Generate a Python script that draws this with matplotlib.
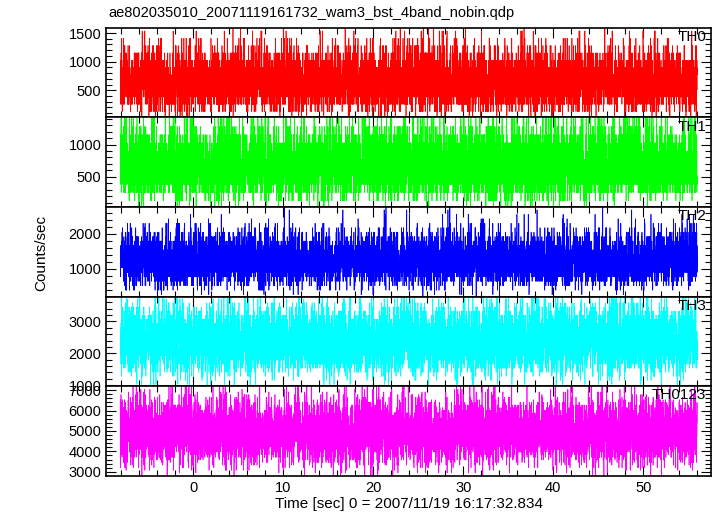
import numpy as np
import matplotlib
matplotlib.use("Agg")
import matplotlib.pyplot as plt
from matplotlib.ticker import MultipleLocator

plt.rcParams['font.family'] = ['Liberation Sans', 'DejaVu Sans']

# light curve: 1/128 s bins from -8.1 to 56.0 sec
# (the individual bins cannot be read off the picture; mean rates are read
#  from it and Poisson noise around them stands in for the counts)
t_start, t_stop, bin_size = -8.1, 56.0, 1.0 / 128
bands = ["TH0", "TH1", "TH2", "TH3", "TH0123"]
mean_rate = [650, 690, 1250, 2400, 4980]          # counts/sec
colors = ["#ff0000", "#00ff00", "#0000ff", "#00ffff", "#ff00ff"]
ylims = [(25, 1590), (30, 1420), (200, 2770), (970, 3780), (2805, 7195)]
major = [500, 500, 1000, 1000, 1000]
minor = [100, 100, 200, 200, 200]

time = np.arange(t_start, t_stop, bin_size)
rng = np.random.default_rng(7)
rates = [rng.poisson(m * bin_size, time.size) / bin_size for m in mean_rate]

fig, axes = plt.subplots(5, 1, sharex=True, figsize=(7.17, 5.16), dpi=100)
fig.subplots_adjust(left=0.148, right=0.992, top=0.946, bottom=0.078, hspace=0)

for i, ax in enumerate(axes):
    ax.plot(time, rates[i], color=colors[i], lw=0.5)
    ax.set_ylim(*ylims[i])
    ax.set_xlim(-9.67, 57.56)
    ax.yaxis.set_major_locator(MultipleLocator(major[i]))
    ax.yaxis.set_minor_locator(MultipleLocator(minor[i]))
    ax.xaxis.set_major_locator(MultipleLocator(10))
    ax.xaxis.set_minor_locator(MultipleLocator(2))
    ax.tick_params(which='both', direction='in', top=True, right=True,
                   labelsize=10.5, width=0.8)
    ax.tick_params(which='major', length=7)
    ax.tick_params(which='minor', length=4)
    for s in ax.spines.values():
        s.set_linewidth(1.2)
        s.set_zorder(5)
    ax.text(0.992, 0.975, bands[i], transform=ax.transAxes, ha='right', va='top',
            fontsize=11, zorder=6)

axes[-1].set_xlabel("Time [sec] 0 = 2007/11/19 16:17:32.834", fontsize=11,
                    labelpad=2)
fig.text(0.058, 0.51, "Counts/sec", rotation=90, ha='center', va='center',
         fontsize=11)
fig.text(0.151, 0.962, "ae802035010_20071119161732_wam3_bst_4band_nobin.qdp",
         ha='left', va='bottom', fontsize=10.5)

fig.savefig("out.png", dpi=100)
